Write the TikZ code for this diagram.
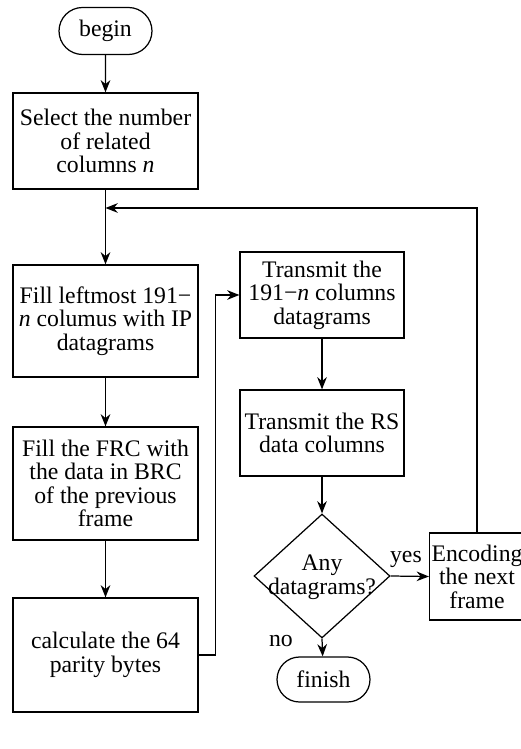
\documentclass[tikz,border=0pt]{standalone}
\usepackage{fontspec}
\setmainfont{Liberation Serif}
\usetikzlibrary{shapes.geometric, shapes.misc, arrows.meta, positioning}

\begin{document}
\begin{tikzpicture}[x=0.02cm, y=-0.02cm,
  font=\fontsize{13.5}{13.4}\selectfont,
  every path/.style={line width=0.7pt},
  term/.style={rounded rectangle, draw, minimum width=1.86cm, minimum height=0.94cm, inner sep=0pt},
  procbox/.style={rectangle, draw, align=center, inner sep=0pt},
  decision/.style={diamond, draw, minimum width=2.72cm, minimum height=2.48cm, inner sep=0pt},
  flow/.style={-{Stealth[length=7pt, width=5.5pt]}}]
\useasboundingbox (0,0) rectangle (520,749);

% left column
\node[term] (begin) at (105.5,31) {begin};
\node[procbox, minimum width=3.7cm, minimum height=1.92cm] (sel) at (105.5,141)
  {Select the number\\of related\\columns \textit{n}};
\node[procbox, minimum width=3.7cm, minimum height=2.24cm] (fill) at (105.5,321)
  {Fill leftmost 191−\\\textit{n} columus with IP\\datagrams};
\node[procbox, minimum width=3.7cm, minimum height=2.26cm] (frc) at (105.5,483.5)
  {Fill the FRC with\\the data in BRC\\of the previous\\frame};
\node[procbox, minimum width=3.7cm, minimum height=2.28cm] (par) at (105.5,655)
  {calculate the 64\\parity bytes};

% right column
\node[procbox, minimum width=3.28cm, minimum height=1.72cm] (tx) at (322,295)
  {Transmit the\\191−\textit{n} columns\\datagrams};
\node[procbox, minimum width=3.28cm, minimum height=1.72cm] (rs) at (322,433)
  {Transmit the RS\\data columns};
\node[decision] (any) at (322,576) {};
\node[align=center] (anytext) at (322,577) {Any\\datagrams?};
\node[procbox, minimum width=1.9cm, minimum height=1.74cm] (enc) at (477,576.5)
  {Encoding\\the next\\frame};
\node[term, minimum height=0.9cm] (finish) at (323.5,679.5) {finish};

\coordinate (jn) at (105.5,208);

% connectors
\draw[flow] (begin) -- (sel);
\draw[flow] (sel) -- (fill);
\draw[flow] (fill) -- (frc);
\draw[flow] (frc) -- (par);
\draw[flow] (par.east) -- ++(17,0) |- (tx.west);
\draw[flow] (tx) -- (rs);
\draw[flow] (rs) -- (any.north);
\draw[flow] (any.east) -- (enc.west) node[pos=0.4, above=1pt] (yes) {yes};
\draw[flow] (any.south) -- (finish) node[pos=0.15, left=13pt] (no) {no};
\draw[flow] (enc.north) |- (jn);
\end{tikzpicture}
\end{document}
